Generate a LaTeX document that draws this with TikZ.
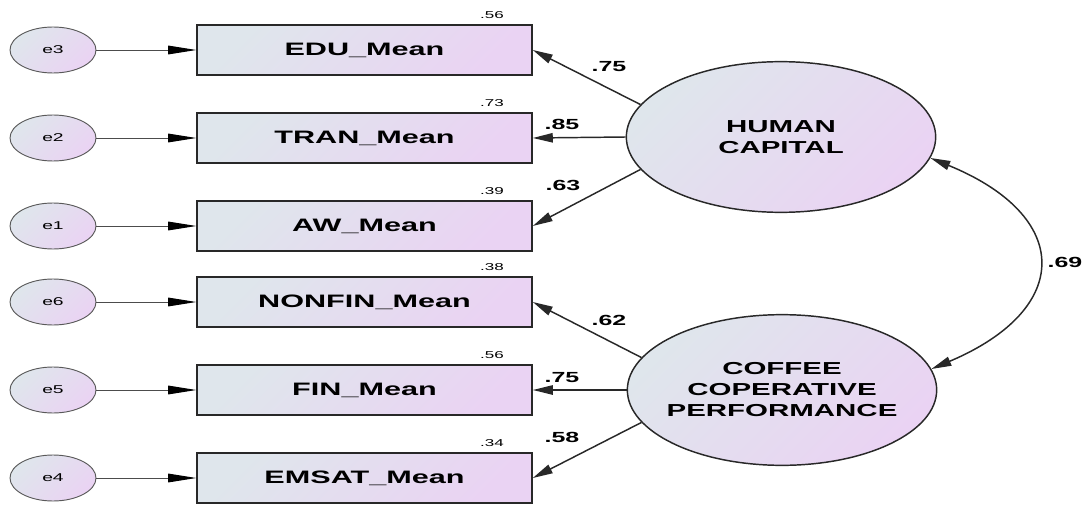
\documentclass[tikz,border=0pt]{standalone}
\usepackage{fontspec}
\setmainfont{Liberation Sans}[FakeStretch=1.7]
\usetikzlibrary{arrows.meta,shapes.geometric}
\definecolor{fillA}{HTML}{DFE6EC}
\definecolor{fillB}{HTML}{EAD3F3}
\definecolor{rim}{HTML}{282828}
\begin{document}
\begin{tikzpicture}[x=0.75pt,y=-0.75pt,
	gradfill/.style={top color=fillA,bottom color=fillB,shading angle=45},
	errvar/.style={ellipse,draw=gray!70!black,line width=0.7pt,gradfill,minimum width=64.5pt,minimum height=34.5pt,inner sep=0pt,font=\fontsize{8.5}{10}\selectfont},
	obsvar/.style={rectangle,draw=rim,line width=1.4pt,gradfill,minimum width=251pt,minimum height=37pt,inner sep=0pt,font=\bfseries\fontsize{13.5}{16}\selectfont},
	latvar/.style={ellipse,draw=rim,line width=1.1pt,gradfill,minimum width=232pt,minimum height=113pt,inner sep=0pt,align=center,font=\bfseries\fontsize{13}{15.75}\selectfont},
	rsq/.style={font=\fontsize{7.5}{9}\selectfont},
	coef/.style={font=\bfseries\fontsize{11}{13}\selectfont},
	errarrow/.style={-{Triangle[length=21pt,width=6.5pt,color=black]},draw=gray!60!black,line width=0.7pt},
	loadarrow/.style={-{Triangle[length=15pt,width=7pt]},draw=rim,line width=1.1pt},
	covarrow/.style={{Triangle[length=15pt,width=7pt]}-{Triangle[length=15pt,width=7pt]},draw=rim,line width=1.1pt},
	]
		
		\useasboundingbox (0,0) rectangle (1087,506);
		
		% latent factors
		\node[latvar] (hc) at (781,137) {HUMAN\\CAPITAL};
		\node[latvar,inner xsep=-9pt] (ccp) at (782,390) {COFFEE\\COPERATIVE\\PERFORMANCE};
		
		% indicators, error terms and R squared
		\foreach \name/\txt/\err/\yy/\r in {edu/EDU\_Mean/e3/50/.56, tran/TRAN\_Mean/e2/138/.73, aw/AW\_Mean/e1/226/.39, nonfin/NONFIN\_Mean/e6/302/.38, fin/FIN\_Mean/e5/390/.56, emsat/EMSAT\_Mean/e4/478/.34}
		{
			\node[obsvar] (\name) at (364.5,\yy) {\txt};
			\node[errvar] (\err) at (53,\yy) {\err};
			\node[rsq] (r\name) at (492,\yy-34.5) {\r};
			\draw[errarrow] (\err) -- (\name);
		}
		
		% loadings
		\foreach \lat/\ind/\ang/\c/\cx/\cy in {hc/edu/167/.75/609/67, hc/tran/180/.85/562/124, hc/aw/193/.63/563/185, ccp/nonfin/167/.62/609/320, ccp/fin/180/.75/562/378, ccp/emsat/193/.58/562/437}
		{
			\draw[loadarrow] (\lat.\ang) -- (\ind.east);
			\node[coef] (c\ind) at (\cx,\cy) {\c};
		}
		
		% covariance
		\draw[covarrow] (hc.-8) .. controls +(142,58) and +(142,-60) .. (ccp.8);
		\node[coef] (cov) at (1065,262) {.69};
		
\end{tikzpicture}
\end{document}
